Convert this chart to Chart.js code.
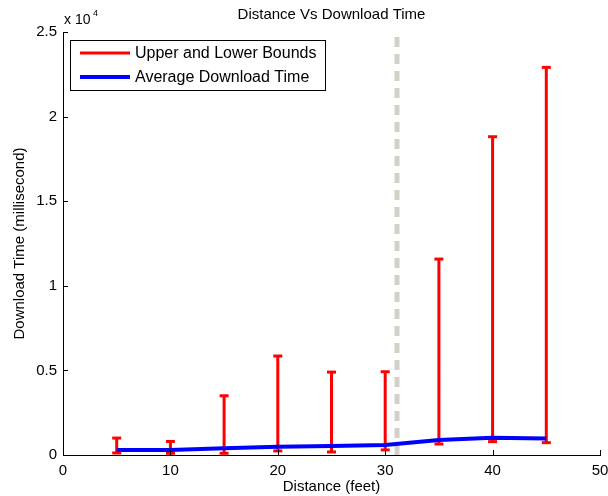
<!DOCTYPE html>
<html>
<head>
<meta charset="utf-8">
<script src="https://cdn.jsdelivr.net/npm/chart.js@4/dist/chart.umd.min.js"></script>
<style>
    html, body { margin: 0; padding: 0; background: #fff; }
    #wrap { width: 608px; height: 496px; }
</style>
</head>
<body>
<div id="wrap"><canvas id="chart" width="608" height="496"></canvas></div>
<script>
const distances = [5, 10, 15, 20, 25, 30, 35, 40, 45];
const upperBounds = [1000, 800, 3500, 5850, 4900, 4920, 11580, 18810, 22910];
const lowerBounds = [120, 100, 100, 240, 180, 300, 650, 790, 730];
const averageTimes = [300, 300, 400, 490, 530, 590, 890, 1020, 980];
const cutoffDistance = 31.1;
const xTicks = [0, 10, 20, 30, 40, 50];
const yTicks = [0, 5000, 10000, 15000, 20000, 25000];

const FONT = 'Liberation Sans, Arial, Helvetica, sans-serif';

// error bars: segments separated by null gaps
const boundPoints = [];
distances.forEach((d, i) => {
    boundPoints.push({ x: d, y: lowerBounds[i] });
    boundPoints.push({ x: d, y: upperBounds[i] });
    boundPoints.push({ x: d, y: null });
});

const matlabDecor = {
    id: 'matlabDecor',
    afterDatasetsDraw(chart) {
        const ctx = chart.ctx;
        const area = chart.chartArea;
        const xs = chart.scales.x, ys = chart.scales.y;
        ctx.save();
        ctx.strokeStyle = '#000';
        ctx.lineWidth = 1;
        // inward ticks
        ctx.beginPath();
        xTicks.forEach(v => {
            const px = Math.round(xs.getPixelForValue(v)) + 0.5;
            ctx.moveTo(px, area.bottom);
            ctx.lineTo(px, area.bottom - 5);
        });
        yTicks.forEach(v => {
            const py = Math.round(ys.getPixelForValue(v)) + 0.5;
            ctx.moveTo(area.left, py);
            ctx.lineTo(area.left + 5, py);
        });
        ctx.stroke();

        // title, centred over the plot area
        ctx.fillStyle = '#000';
        ctx.font = '15px ' + FONT;
        ctx.textAlign = 'center';
        ctx.textBaseline = 'middle';
        ctx.fillText('Distance Vs Download Time', (area.left + area.right) / 2, 15);

        // exponent label
        ctx.font = '14px ' + FONT;
        ctx.textBaseline = 'alphabetic';
        ctx.textAlign = 'left';
        ctx.fillText('x 10', area.left + 1, area.top - 8);
        ctx.font = '9px ' + FONT;
        ctx.fillText('4', area.left + 30, area.top - 16);

        // legend box
        const lx = 70, ly = 40, lw = 255, lh = 50;
        ctx.fillStyle = '#fff';
        ctx.fillRect(lx, ly, lw, lh);
        ctx.strokeRect(lx + 0.5, ly + 0.5, lw, lh);
        const entries = [
            { label: 'Upper and Lower Bounds', color: '#ff0000', width: 3 },
            { label: 'Average Download Time', color: '#0000ff', width: 4 }
        ];
        entries.forEach((e, i) => {
            const yy = ly + 13 + i * 24;
            ctx.strokeStyle = e.color;
            ctx.lineWidth = e.width;
            ctx.beginPath();
            ctx.moveTo(80, yy);
            ctx.lineTo(130, yy);
            ctx.stroke();
            ctx.fillStyle = '#000';
            ctx.font = '16px ' + FONT;
            ctx.textBaseline = 'middle';
            ctx.fillText(e.label, 135, yy + 1);
        });
        ctx.restore();
    }
};

new Chart(document.getElementById('chart').getContext('2d'), {
    type: 'line',
    data: {
        datasets: [
            {
                label: 'Cutoff',
                data: [{ x: cutoffDistance, y: 0 }, { x: cutoffDistance, y: 25000 }],
                borderColor: '#d4d0c8',
                borderWidth: 5,
                borderDash: [10, 7],
                pointRadius: 0,
                order: 3
            },
            {
                label: 'Upper and Lower Bounds',
                data: boundPoints,
                borderColor: '#ff0000',
                backgroundColor: '#ff0000',
                borderWidth: 3,
                spanGaps: false,
                pointStyle: 'line',
                pointRadius: 4.5,
                pointBorderWidth: 3,
                pointBorderColor: '#ff0000',
                order: 2
            },
            {
                label: 'Average Download Time',
                data: distances.map((d, i) => ({ x: d, y: averageTimes[i] })),
                borderColor: '#0000ff',
                borderWidth: 4,
                pointRadius: 0,
                tension: 0,
                order: 1
            }
        ]
    },
    options: {
        responsive: false,
        animation: false,
        events: [],
        layout: { padding: { left: 0, right: 8, top: 32, bottom: 0 } },
        plugins: {
            legend: { display: false },
            tooltip: { enabled: false },
            title: { display: false }
        },
        scales: {
            x: {
                type: 'linear',
                min: 0,
                max: 50,
                afterBuildTicks: s => { s.ticks = xTicks.map(v => ({ value: v })); },
                afterFit: s => { s.height = 41; s.paddingRight = 0; s.paddingLeft = 0; },
                grid: { display: false, drawTicks: false },
                border: { color: '#000', width: 1 },
                ticks: { color: '#000', padding: 7, font: { family: FONT, size: 15 }, maxRotation: 0 },
                title: {
                    display: true,
                    text: 'Distance (feet)',
                    color: '#000',
                    font: { family: FONT, size: 15 },
                    padding: { top: 0, bottom: 0 }
                }
            },
            y: {
                type: 'linear',
                min: 0,
                max: 25000,
                afterBuildTicks: s => { s.ticks = yTicks.map(v => ({ value: v })); },
                afterFit: s => { s.width = 63; s.paddingTop = 0; s.paddingBottom = 0; },
                grid: { display: false, drawTicks: false },
                border: { color: '#000', width: 1 },
                ticks: {
                    color: '#000',
                    padding: 6,
                    font: { family: FONT, size: 15 },
                    callback: v => String(v / 10000)
                },
                title: {
                    display: true,
                    text: 'Download Time (millisecond)',
                    color: '#000',
                    font: { family: FONT, size: 15 },
                    padding: { top: 11, bottom: 0 }
                }
            }
        }
    },
    plugins: [matlabDecor]
});
</script>
</body>
</html>
